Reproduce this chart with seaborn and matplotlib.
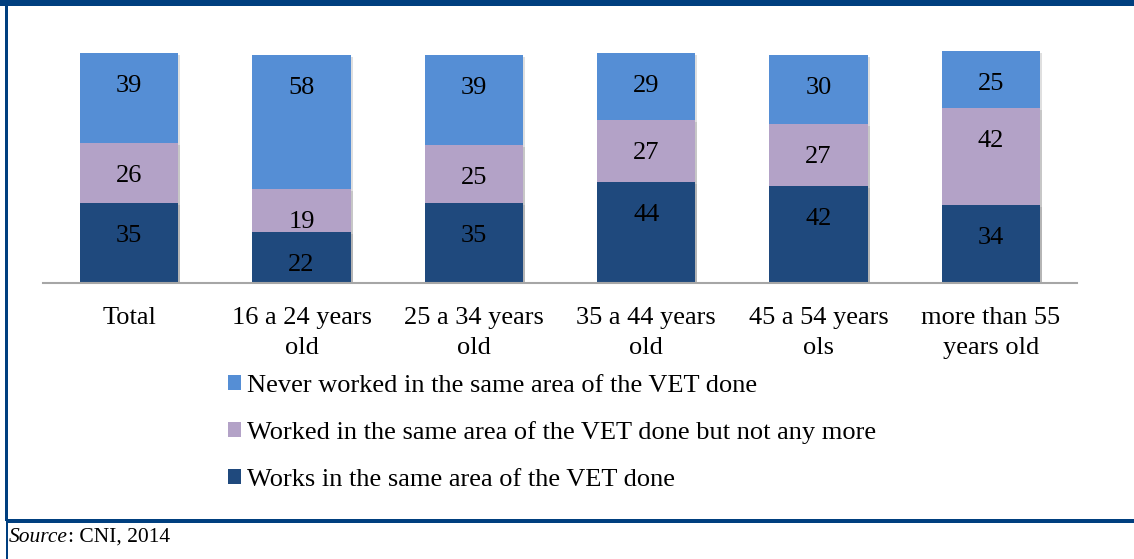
import matplotlib
matplotlib.use("Agg")
import matplotlib.pyplot as plt
import matplotlib.patheffects as pe
import seaborn as sns
import pandas as pd
from matplotlib.patches import Patch, Rectangle

# Data
categories = ["Total", "16 a 24 years\nold", "25 a 34 years\nold", "35 a 44 years\nold",
              "45 a 54 years\nols", "more than 55\nyears old"]
works = [35, 22, 35, 44, 42, 34]
worked_before = [26, 19, 25, 27, 27, 42]
never_worked = [39, 58, 39, 29, 30, 25]

series_names = ["Never worked in the same area of the VET done",
                "Worked in the same area of the VET done but not any more",
                "Works in the same area of the VET done"]
colors = ["#558ED5", "#B3A2C7", "#1F497D"]
frame_color = "#003F7F"

df = pd.DataFrame({"cat": categories, "works": works,
                   "worked": worked_before, "never": never_worked})
df["c1"] = df["works"]
df["c2"] = df["works"] + df["worked"]
df["c3"] = df["c2"] + df["never"]

sns.set_theme(style="white")
plt.rcParams["font.family"] = ["Liberation Serif", "DejaVu Serif"]
plt.rcParams["text.color"] = "black"
plt.rcParams["xtick.color"] = "black"

fig = plt.figure(figsize=(11.34, 5.59), dpi=100)
ax = fig.add_axes([43 / 1134, (559 - 283) / 559, (1077 - 43) / 1134, 253 / 559])

# stacked bars by overplotting cumulative totals
for col, c in zip(["c3", "c2", "c1"], colors):
    sns.barplot(data=df, x="cat", y=col, color=c, width=0.57, saturation=1,
                linewidth=0, ax=ax)

# light drop shadow like the original
for bar in ax.patches:
    bar.set_path_effects([pe.SimplePatchShadow(offset=(1.5, -1.5), shadow_rgbFace="gray", alpha=0.25),
                          pe.Normal()])

fs = 19
# labels sit near the top of each segment ("inside end")
for i in range(len(categories)):
    for top, val in [(df["c1"][i], works[i]), (df["c2"][i], worked_before[i]),
                     (df["c3"][i], never_worked[i])]:
        ax.annotate(str(val), xy=(i, top), xytext=(0, -33), textcoords="offset pixels",
                    ha="center", va="center", fontsize=fs, color="black")

ax.set_xlim(-0.5, len(categories) - 0.5)
ax.set_ylim(0, 110)
ax.set_xlabel("")
ax.set_ylabel("")
ax.set_yticks([])
ax.tick_params(axis="x", length=0, pad=17, labelsize=fs)
ax.set_xticks(range(len(categories)))
ax.set_xticklabels(categories, linespacing=1.48)
for s in ["top", "right", "left"]:
    ax.spines[s].set_visible(False)
ax.spines["bottom"].set_color("#A6A6A6")
ax.spines["bottom"].set_linewidth(1.5)
ax.spines["bottom"].set_zorder(3)

handles = [Patch(facecolor=c, edgecolor="none") for c in colors]
fig.legend(handles, series_names, loc="upper left", bbox_to_anchor=(217 / 1134, 1 - 364 / 559),
           frameon=False, fontsize=fs, handlelength=0.5, handleheight=0.5,
           handletextpad=0.22, labelspacing=0.94, borderaxespad=0)

# frame lines
fig.patches.append(Rectangle((0, 1 - 6 / 559), 1, 6 / 559, transform=fig.transFigure,
                             facecolor=frame_color, edgecolor="none"))
fig.patches.append(Rectangle((5 / 1134, 1 - 521 / 559), 3 / 1134, 515 / 559, transform=fig.transFigure,
                             facecolor=frame_color, edgecolor="none"))
fig.patches.append(Rectangle((6 / 1134, 1 - 523 / 559), 1, 4 / 559, transform=fig.transFigure,
                             facecolor=frame_color, edgecolor="none"))
fig.patches.append(Rectangle((6 / 1134, 0), 2 / 1134, 38 / 559, transform=fig.transFigure,
                             facecolor=frame_color, edgecolor="none"))

src = fig.text(9 / 1134, 1 - 537 / 559, "Source", style="italic", fontsize=15.5,
               va="center", ha="left")
ax.annotate(": CNI, 2014", xy=(1, 0.5), xycoords=src, va="center", ha="left",
            fontsize=15.5, annotation_clip=False)

fig.savefig("out.png", dpi=100)
